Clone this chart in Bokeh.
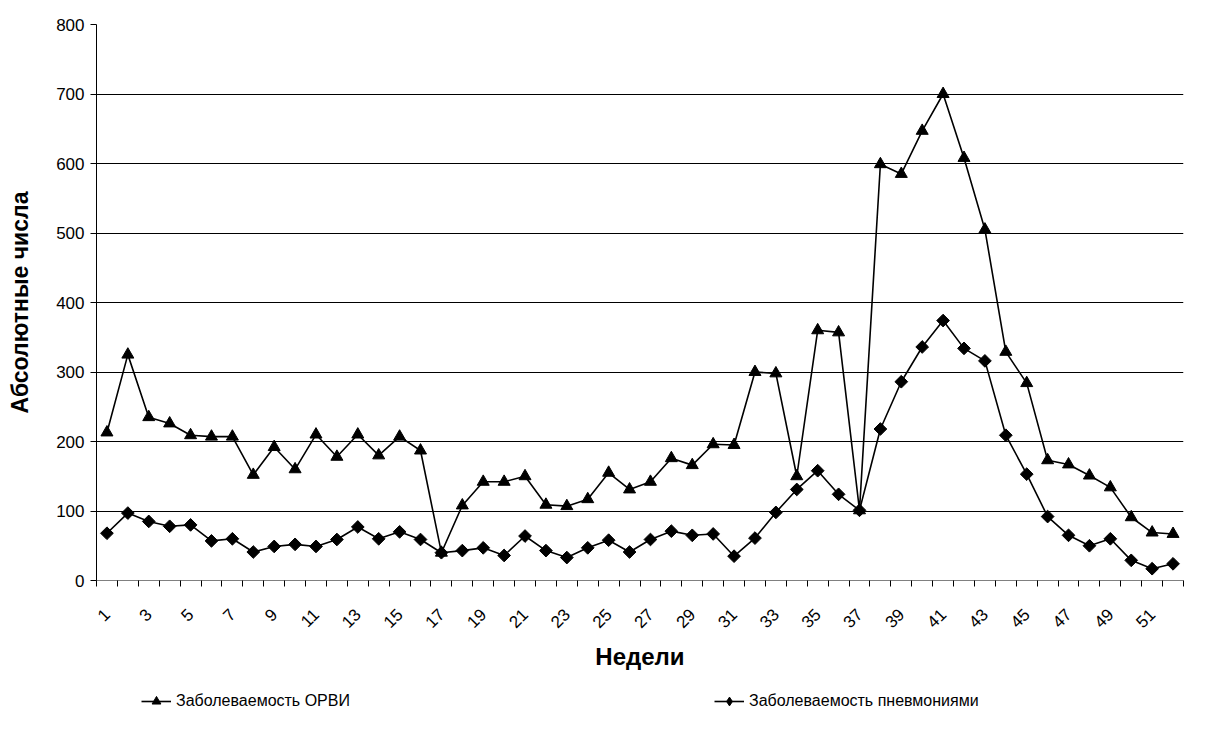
import math
from bokeh.plotting import figure
from bokeh.layouts import column
from bokeh.models import Range1d, FixedTicker, Legend, LegendItem, ColumnDataSource
from bokeh.embed import file_html
from bokeh.resources import INLINE

weeks = list(range(1, 53))
orvi = [213, 325, 235, 226, 209, 207, 207, 152, 192, 160,
        210, 178, 210, 180, 207, 187, 40, 108, 142, 142,
        150, 109, 107, 117, 155, 131, 142, 176, 166, 196,
        195, 300, 298, 150, 360, 357, 101, 599, 585, 647,
        700, 608, 505, 329, 284, 173, 167, 151, 134, 91,
        69, 67]
pneu = [68, 97, 85, 78, 80, 57, 60, 41, 49, 52,
        49, 59, 77, 60, 70, 59, 40, 43, 47, 36,
        64, 43, 33, 47, 58, 41, 59, 71, 65, 67,
        35, 61, 98, 131, 158, 124, 101, 218, 286, 336,
        374, 334, 316, 209, 153, 92, 65, 50, 60, 29,
        17, 24]
label_weeks = list(range(1, 53, 2))
y_ticks = [0, 100, 200, 300, 400, 500, 600, 700, 800]
name_orvi = "Заболеваемость ОРВИ"
name_pneu = "Заболеваемость пневмониями"
x_title = "Недели"
y_title = "Абсолютные числа"

FONT = "Liberation Sans"

src = ColumnDataSource(dict(week=weeks, orvi=orvi, pneu=pneu))

p = figure(width=1195, height=680, output_backend="svg", toolbar_location=None,
           x_range=Range1d(0.5, 52.5), y_range=Range1d(0, 800),
           min_border_left=96, min_border_top=24, min_border_right=12,
           min_border_bottom=100)
p.outline_line_color = None
p.background_fill_color = "white"
p.border_fill_color = "white"

p.xgrid.grid_line_color = None
p.ygrid.grid_line_color = "#000000"
p.ygrid.grid_line_width = 1
p.ygrid.ticker = FixedTicker(ticks=y_ticks)

# y axis
p.yaxis.ticker = FixedTicker(ticks=y_ticks)
p.yaxis.axis_line_color = "black"
p.yaxis.major_tick_out = 6
p.yaxis.major_tick_in = 0
p.yaxis.minor_tick_line_color = None
p.yaxis.major_label_text_font = FONT
p.yaxis.major_label_text_font_size = "17px"
p.yaxis.major_label_text_color = "black"
p.yaxis.major_label_standoff = 6
p.yaxis.axis_label = y_title
p.yaxis.axis_label_text_font = FONT
p.yaxis.axis_label_text_font_size = "23px"
p.yaxis.axis_label_text_font_style = "bold"
p.yaxis.axis_label_text_color = "black"
p.yaxis.axis_label_standoff = 20

# x axis
minor = [w - 0.5 for w in weeks] + [52.5]
p.xaxis.ticker = FixedTicker(ticks=label_weeks, minor_ticks=minor)
p.xaxis.axis_line_color = "#808080"
p.xaxis.major_tick_in = 0
p.xaxis.major_tick_out = 0
p.xaxis.minor_tick_in = 0
p.xaxis.minor_tick_out = 6
p.xaxis.minor_tick_line_color = "black"
p.xaxis.major_label_orientation = math.pi / 4
p.xaxis.major_label_text_font = FONT
p.xaxis.major_label_text_font_size = "17px"
p.xaxis.major_label_text_color = "black"
p.xaxis.major_label_standoff = 25
p.xaxis.axis_label = x_title
p.xaxis.axis_label_text_font = FONT
p.xaxis.axis_label_text_font_size = "24px"
p.xaxis.axis_label_text_font_style = "bold"
p.xaxis.axis_label_text_color = "black"
p.xaxis.axis_label_standoff = 7

p.line("week", "orvi", source=src, line_color="black", line_width=1.6)
p.scatter("week", "orvi", source=src, marker="triangle", size=12,
          fill_color="black", line_color="black")
p.line("week", "pneu", source=src, line_color="black", line_width=1.6)
p.scatter("week", "pneu", source=src, marker="square", angle=math.pi / 4,
          size=9, fill_color="black", line_color="black")

# legend strip below the chart (its frame is aligned with the chart's frame);
# the same series are drawn there outside the visible range, only as legend keys
q = figure(width=1195, height=40, output_backend="svg", toolbar_location=None,
           x_range=Range1d(1000, 1001), y_range=Range1d(1000, 1001),
           x_axis_location=None, y_axis_location=None,
           min_border_left=96, min_border_right=12, min_border_top=0,
           min_border_bottom=0)
q.outline_line_color = None
q.grid.visible = False
ql1 = q.line("week", "orvi", source=src, line_color="black", line_width=1.6)
qs1 = q.scatter("week", "orvi", source=src, marker="triangle", size=10,
                fill_color="black", line_color="black")
ql2 = q.line("week", "pneu", source=src, line_color="black", line_width=1.6)
qs2 = q.scatter("week", "pneu", source=src, marker="diamond", size=12,
                fill_color="black", line_color="black")

for name, rs, loc in [(name_orvi, [ql1, qs1], (45, 8)),
                      (name_pneu, [ql2, qs2], (618, 8))]:
    lg = Legend(items=[LegendItem(label=name, renderers=rs, index=0)], location=loc,
                orientation="horizontal", padding=0, margin=0, spacing=0,
                glyph_width=30, glyph_height=22, label_standoff=5,
                border_line_color=None, background_fill_alpha=0,
                label_text_font=FONT, label_text_font_size="16px",
                label_text_color="black")
    q.add_layout(lg, "center")

open("out.html", "w").write(file_html(column(p, q, spacing=0), INLINE))
